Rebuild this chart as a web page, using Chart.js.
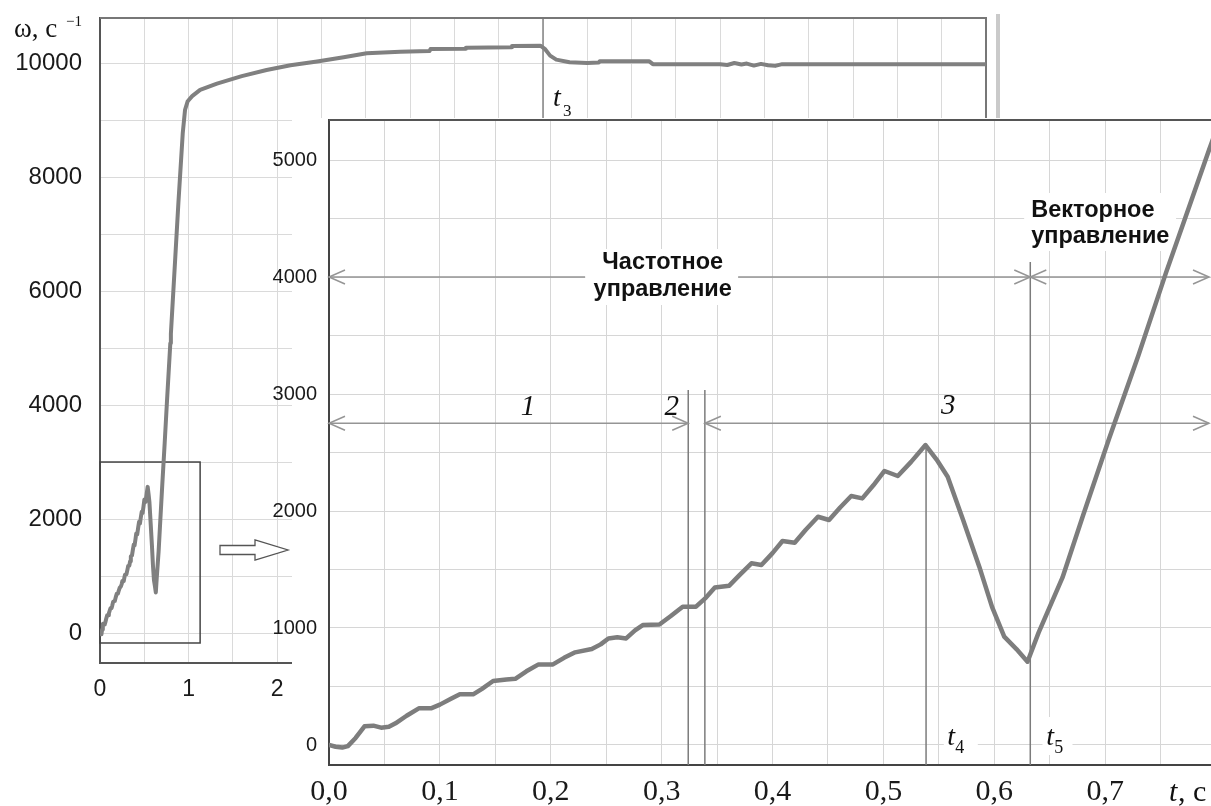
<!DOCTYPE html>
<html><head><meta charset="utf-8">
<script src="https://cdn.jsdelivr.net/npm/chart.js@4/dist/chart.umd.min.js"></script>
<style>
html,body{margin:0;padding:0;background:#fff;overflow:hidden;width:1211px;height:806px;}
#bg{position:absolute;left:0;top:0;}
#ins{position:absolute;left:260px;top:118px;}
</style></head><body>
<canvas id="bg" width="1211" height="806"></canvas>
<canvas id="ins" width="960" height="688"></canvas>
<script>
// ---------- data ----------
// inset (zoomed) curve: t, s  ->  omega, 1/s
const insetT = [0,0.006,0.012,0.017,0.024,0.032,0.040,0.047,0.054,0.060,0.070,0.081,0.092,0.100,0.110,0.118,0.130,0.138,0.148,0.160,0.168,0.178,0.189,0.202,0.212,0.222,0.237,0.245,0.252,0.260,0.268,0.276,0.283,0.298,0.308,0.319,0.331,0.340,0.348,0.361,0.370,0.381,0.390,0.400,0.409,0.420,0.430,0.441,0.451,0.461,0.471,0.481,0.491,0.501,0.513,0.525,0.538,0.548,0.558,0.572,0.5865,0.598,0.609,0.620,0.630,0.640,0.6615,0.680,0.7036,0.730,0.7547,0.775,0.7937,0.800];
const insetW = [0,-15,-22,-10,60,160,165,148,155,185,250,313,313,345,395,433,433,480,547,560,566,630,689,689,745,792,820,860,911,920,911,980,1025,1030,1100,1182,1182,1260,1346,1362,1450,1553,1538,1640,1744,1729,1840,1951,1923,2030,2128,2108,2220,2342,2299,2420,2564,2440,2293,1920,1524,1180,926,820,712,960,1430,1960,2620,3330,4031,4580,5085,5250];
// rest of the full-range curve (after the inset window)
const bgT = [0.85,0.885,0.934,0.96,0.99,1.04,1.13,1.32,1.60,1.88,2.15,2.45,2.75,3.01,3.39,3.72,3.73,4.12,4.13,4.64,4.65,4.97,5.02,5.08,5.15,5.30,5.50,5.63,5.64,6.20,6.24,7.00,7.08,7.16,7.24,7.30,7.38,7.46,7.54,7.62,7.70,8.50,10.0];
const bgW = [6600,7550,8770,9180,9330,9420,9530,9640,9770,9877,9960,10025,10100,10170,10200,10210,10245,10250,10270,10275,10300,10305,10250,10130,10060,10015,10000,10010,10030,10030,9980,9980,9965,10000,9975,9990,9955,9985,9960,9950,9980,9980,9980];

// ticks
const bgXTicks = [0,0.5,1,1.5,2,2.5,3,3.5,4,4.5,5,5.5,6,6.5,7,7.5,8,8.5,9,9.5,10];
const bgXLabels = [0,1,2];
const bgYTicks = [0,1000,2000,3000,4000,5000,6000,7000,8000,9000,10000];
const bgYLabels = [0,2000,4000,6000,8000,10000];
const insXTicks = [0,0.05,0.1,0.15,0.2,0.25,0.3,0.35,0.4,0.45,0.5,0.55,0.6,0.65,0.7,0.75,0.8];
const insXLabels = [0,0.1,0.2,0.3,0.4,0.5,0.6,0.7];
const insYTicks = [0,500,1000,1500,2000,2500,3000,3500,4000,4500,5000];
const insYLabels = [0,1000,2000,3000,4000,5000];

// characteristic instants
const t3 = 5.0;
const tEnd1 = 0.324, tStart3 = 0.339, t4 = 0.5385, t5 = 0.6325;
const zoomBox = {x0:0, x1:1.13, y0:-175, y1:3000};

const SANS = '"Liberation Sans", Arial, sans-serif';
const SERIF = '"Liberation Serif", "Times New Roman", serif';

const near = (arr, v) => arr.some(a => Math.abs(a - v) < 1e-6);
const noPad = s => { s.paddingTop = 0; s.paddingBottom = 0; s.paddingLeft = 0; s.paddingRight = 0; };

// ---------- background (full range) ----------
const bgPts = insetT.map((t,i)=>({x:t,y:insetW[i]})).concat(bgT.map((t,i)=>({x:t,y:bgW[i]})));

const bgPlugin = {
  id:'bgDeco',
  beforeDatasetsDraw(chart){
    const {ctx, chartArea:a, scales:{x,y}} = chart;
    ctx.save();
    ctx.strokeStyle='#858585'; ctx.lineWidth=1.5;
    ctx.beginPath(); const xt=x.getPixelForValue(t3); ctx.moveTo(xt,a.top); ctx.lineTo(xt,a.bottom); ctx.stroke();
    ctx.strokeStyle='#777'; ctx.lineWidth=2;
    ctx.beginPath(); ctx.moveTo(a.left,a.top); ctx.lineTo(a.right,a.top); ctx.lineTo(a.right,a.bottom); ctx.stroke();
    ctx.strokeStyle='#444'; ctx.lineWidth=1.5;
    const X0=x.getPixelForValue(zoomBox.x0), X1=x.getPixelForValue(zoomBox.x1), Y0=y.getPixelForValue(zoomBox.y0), Y1=y.getPixelForValue(zoomBox.y1);
    ctx.strokeRect(X0, Y1, X1-X0, Y0-Y1);
    ctx.restore();
  },
  afterDraw(chart){
    const {ctx, chartArea:a} = chart;
    ctx.save();
    ctx.strokeStyle='#cacaca'; ctx.lineWidth=4;
    ctx.beginPath(); ctx.moveTo(a.right+12, a.top-4); ctx.lineTo(a.right+12, a.top+100); ctx.stroke();
    ctx.strokeStyle='#555'; ctx.lineWidth=1.3; ctx.fillStyle='#fff';
    const ay=550;
    ctx.beginPath();
    ctx.moveTo(220, ay-4.5); ctx.lineTo(255, ay-4.5); ctx.lineTo(255, ay-10); ctx.lineTo(288, ay);
    ctx.lineTo(255, ay+10); ctx.lineTo(255, ay+4.5); ctx.lineTo(220, ay+4.5); ctx.closePath();
    ctx.fill(); ctx.stroke();
    ctx.fillStyle='#111'; ctx.textAlign='left'; ctx.textBaseline='alphabetic';
    ctx.font='27px '+SERIF; ctx.fillText('ω, c', 14, 37);
    ctx.font='15px '+SERIF; ctx.fillText('−1', 66, 26);
    const xt = chart.scales.x.getPixelForValue(t3);
    ctx.font='italic 28px '+SERIF; ctx.fillText('t', xt+10, 106);
    ctx.font='17px '+SERIF; ctx.fillText('3', xt+20, 116);
    ctx.restore();
  }
};

new Chart(document.getElementById('bg'), {
  type:'line',
  data:{datasets:[{data:bgPts, borderColor:'#808080', borderWidth:4, pointRadius:0, tension:0, fill:false, borderJoinStyle:'round', borderCapStyle:'round'}]},
  options:{
    responsive:false, animation:false, devicePixelRatio:1,
    layout:{padding:{left:0, top:18, right:225, bottom:0}},
    plugins:{legend:{display:false}, tooltip:{enabled:false}},
    scales:{
      x:{type:'linear', min:0, max:10,
         afterBuildTicks:s=>{s.ticks=bgXTicks.map(v=>({value:v}));},
         afterFit:s=>{s.height=143; noPad(s);},
         grid:{color:'#dadada', lineWidth:1, drawTicks:false},
         border:{color:'#555', width:2},
         ticks:{autoSkip:false, maxRotation:0, padding:13, color:'#1a1a1a', font:{family:SANS, size:23},
                callback:v=> near(bgXLabels,v) ? String(Math.round(v)) : ''}},
      y:{type:'linear', min:-526, max:10790,
         afterBuildTicks:s=>{s.ticks=bgYTicks.map(v=>({value:v}));},
         afterFit:s=>{s.width=100; noPad(s);},
         grid:{color:'#dadada', lineWidth:1, drawTicks:false},
         border:{color:'#555', width:2},
         ticks:{autoSkip:false, padding:18, color:'#1a1a1a', font:{family:SANS, size:24},
                callback:v=> near(bgYLabels,v) ? String(Math.round(v)) : ''}}
    }
  },
  plugins:[bgPlugin]
});

// ---------- inset (zoomed window) ----------
const PANEL_LEFT = 32; // white panel starts here (canvas coords)
function chevron(ctx, x, y, dir){
  ctx.beginPath();
  ctx.moveTo(x - dir*16, y-7); ctx.lineTo(x, y); ctx.lineTo(x - dir*16, y+7);
  ctx.stroke();
}
const insPlugin = {
  id:'insDeco',
  beforeDraw(chart){
    const ctx=chart.ctx; ctx.save(); ctx.fillStyle='#fff'; ctx.fillRect(PANEL_LEFT,0,chart.width-PANEL_LEFT,chart.height); ctx.restore();
  },
  beforeDatasetsDraw(chart){
    const {ctx, chartArea:a, scales:{x,y}} = chart;
    const px=v=>x.getPixelForValue(v), py=v=>y.getPixelForValue(v);
    ctx.save();
    ctx.fillStyle='#fff';
    ctx.fillRect(px(0.231), py(4000)-28, px(0.369)-px(0.231), 56);
    ctx.fillRect(px(0.627), py(4000)-84, px(0.764)-px(0.627), 58);
    ctx.fillRect(px(0.5545), py(0)-28, 34, 38);
    ctx.fillRect(px(0.6435), py(0)-28, 30, 38);
    ctx.strokeStyle='#555'; ctx.lineWidth=2;
    ctx.beginPath(); ctx.moveTo(a.left, a.top); ctx.lineTo(a.right+10, a.top); ctx.stroke();
    ctx.strokeStyle='#7c7c7c'; ctx.lineWidth=1.5;
    const vline=(t,v)=>{ctx.beginPath(); ctx.moveTo(px(t), py(v)); ctx.lineTo(px(t), a.bottom); ctx.stroke();};
    vline(tEnd1, 3034); vline(tStart3, 3034); vline(t4, 2564); vline(t5, 4128);
    ctx.strokeStyle='#959595'; ctx.lineWidth=1.5;
    const hline=(t0,t1,v)=>{ctx.beginPath(); ctx.moveTo(px(t0),py(v)); ctx.lineTo(px(t1),py(v)); ctx.stroke();};
    const tR = 0.7937;
    hline(0, 0.231, 4000); hline(0.369, t5, 4000); hline(t5, tR, 4000);
    chevron(ctx, px(0), py(4000), -1); chevron(ctx, px(t5), py(4000), 1);
    chevron(ctx, px(t5), py(4000), -1); chevron(ctx, px(tR), py(4000), 1);
    hline(0, tEnd1, 2750); hline(tStart3, tR, 2750);
    chevron(ctx, px(0), py(2750), -1); chevron(ctx, px(tEnd1), py(2750), 1);
    chevron(ctx, px(tStart3), py(2750), -1); chevron(ctx, px(tR), py(2750), 1);
    ctx.restore();
  },
  afterDatasetsDraw(chart){
    const {ctx, chartArea:a, scales:{x,y}} = chart;
    const px=v=>x.getPixelForValue(v), py=v=>y.getPixelForValue(v);
    ctx.save();
    ctx.fillStyle='#111'; ctx.textBaseline='alphabetic';
    ctx.font='bold 23.5px '+SANS; ctx.textAlign='center';
    ctx.fillText('Частотное', px(0.301), py(4000)-8);
    ctx.fillText('управление', px(0.301), py(4000)+19);
    ctx.textAlign='left';
    ctx.fillText('Векторное', px(0.6333), py(4000)-60);
    ctx.fillText('управление', px(0.6333), py(4000)-34);
    ctx.font='italic 29px '+SERIF;
    ctx.fillText('1', px(0.173), py(2750)-8);
    ctx.fillText('2', px(0.3027), py(2750)-8);
    ctx.fillText('3', px(0.552), py(2750)-9);
    const tl=(t,sub)=>{ctx.font='italic 28px '+SERIF; ctx.fillText('t', px(t), py(0)); ctx.font='18px '+SERIF; ctx.fillText(sub, px(t)+8, py(0)+8);};
    tl(0.5577,'4'); tl(0.6468,'5');
    ctx.font='italic 30px '+SERIF; ctx.fillText('t', px(0.7577), a.bottom+36);
    ctx.font='30px '+SERIF; ctx.fillText(', c', px(0.7577)+9, a.bottom+36);
    ctx.restore();
  }
};

const insPts = insetT.map((t,i)=>({x:t,y:insetW[i]}));
new Chart(document.getElementById('ins'), {
  type:'line',
  data:{datasets:[{data:insPts, borderColor:'#7d7d7d', borderWidth:4.5, pointRadius:0, tension:0, fill:false, borderJoinStyle:'round', borderCapStyle:'round'}]},
  options:{
    responsive:false, animation:false, devicePixelRatio:1,
    layout:{padding:{left:0, top:2, right:4, bottom:0}},
    plugins:{legend:{display:false}, tooltip:{enabled:false}},
    scales:{
      x:{type:'linear', min:0, max:0.8,
         afterBuildTicks:s=>{s.ticks=insXTicks.map(v=>({value:v}));},
         afterFit:s=>{s.height=41; noPad(s);},
         grid:{color:'#d6d6d6', lineWidth:1, drawTicks:false},
         border:{color:'#444', width:2},
         ticks:{autoSkip:false, maxRotation:0, padding:9, color:'#1a1a1a', font:{family:SERIF, size:30},
                callback:v=> near(insXLabels,v) ? v.toFixed(1).replace('.',',') : ''}},
      y:{type:'linear', min:-171, max:5342,
         afterBuildTicks:s=>{s.ticks=insYTicks.map(v=>({value:v}));},
         afterFit:s=>{s.width=69; noPad(s);},
         grid:{color:'#d6d6d6', lineWidth:1, drawTicks:false},
         border:{color:'#444', width:2},
         ticks:{autoSkip:false, padding:12, color:'#1a1a1a', font:{family:SANS, size:20},
                callback:v=> near(insYLabels,v) ? String(Math.round(v)) : ''}}
    }
  },
  plugins:[insPlugin]
});
</script>
</body></html>
